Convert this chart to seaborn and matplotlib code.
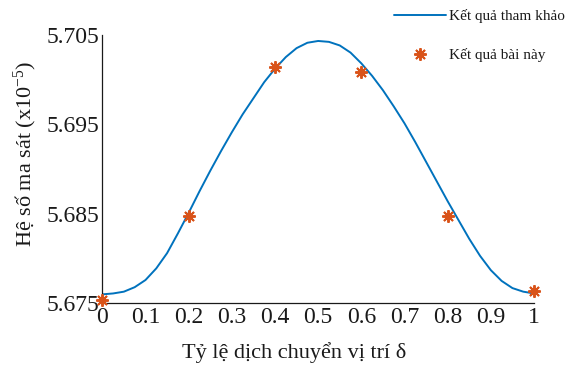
import matplotlib
matplotlib.use("Agg")
import matplotlib.pyplot as plt
import seaborn as sns

# Reference curve (friction coefficient, x1e-5) vs. shift ratio
ref_x = [0.000, 0.025, 0.050, 0.075, 0.100, 0.125, 0.150, 0.175, 0.200,
         0.225, 0.250, 0.275, 0.300, 0.325, 0.350, 0.375, 0.400, 0.425,
         0.450, 0.475, 0.500, 0.525, 0.550, 0.575, 0.600, 0.625, 0.650,
         0.675, 0.700, 0.725, 0.750, 0.775, 0.800, 0.825, 0.850, 0.875,
         0.900, 0.925, 0.950, 0.975, 1.000]
ref_y = [5.6760, 5.6761, 5.6763, 5.6768, 5.6776, 5.6789, 5.6806, 5.6828,
         5.6851, 5.6875, 5.6898, 5.6920, 5.6941, 5.6961, 5.6979, 5.6997,
         5.7012, 5.7025, 5.7035, 5.7041, 5.7043, 5.7042, 5.7038, 5.7030,
         5.7018, 5.7004, 5.6988, 5.6970, 5.6951, 5.6930, 5.6908, 5.6886,
         5.6864, 5.6843, 5.6822, 5.6803, 5.6787, 5.6775, 5.6767, 5.6763,
         5.6761]

# Results of this work
our_x = [0.0, 0.2, 0.4, 0.6, 0.8, 1.0]
our_y = [5.6754, 5.6847, 5.7014, 5.7008, 5.6848, 5.6764]

xticks = [0, 0.1, 0.2, 0.3, 0.4, 0.5, 0.6, 0.7, 0.8, 0.9, 1]
xtick_labels = ["0", "0.1", "0.2", "0.3", "0.4", "0.5", "0.6", "0.7", "0.8", "0.9", "1"]
yticks = [5.675, 5.685, 5.695, 5.705]
ytick_labels = ["5.675", "5.685", "5.695", "5.705"]

sns.set_theme(style="white")
plt.rcParams["font.family"] = ["Liberation Serif", "DejaVu Serif"]
plt.rcParams["mathtext.fontset"] = "custom"
plt.rcParams["mathtext.rm"] = "Liberation Serif"
plt.rcParams["mathtext.it"] = "Liberation Serif:italic"

text_color = "#1a1a1a"
line_color = "#0072BD"
mark_color = "#D95319"

fig = plt.figure(figsize=(5.79, 3.68), dpi=100)
ax = fig.add_axes([0.1767, 0.1758, 0.9223 - 0.1767, 0.9057 - 0.1758])

sns.lineplot(x=ref_x, y=ref_y, ax=ax, color=line_color, linewidth=1.4,
             label="Kết quả tham khảo")
sns.lineplot(x=our_x, y=our_y, ax=ax, linestyle="", marker=(8, 2, 0),
             markersize=9, color=mark_color, markeredgecolor=mark_color,
             markeredgewidth=1.4, label="Kết quả bài này", clip_on=False,
             zorder=5)

ax.set_xlim(0, 1)
ax.set_ylim(5.675, 5.705)
ax.set_xticks(xticks)
ax.set_xticklabels(xtick_labels)
ax.set_yticks(yticks)
ax.set_yticklabels(ytick_labels)
ax.tick_params(axis="both", direction="in", length=3.5, width=0.9,
               labelsize=17, pad=2.5, colors=text_color)

for side in ("top", "right"):
    ax.spines[side].set_visible(False)
for side in ("left", "bottom"):
    ax.spines[side].set_color(text_color)
    ax.spines[side].set_linewidth(0.9)

ax.set_xlabel("Tỷ lệ dịch chuyển vị trí δ", fontsize=16, color=text_color)
ax.xaxis.set_label_coords(0.445, -0.145)
ax.set_ylabel(r"Hệ số ma sát (x10$^{\mathrm{-5}}$)", fontsize=16,
              color=text_color, va="center")
ax.yaxis.set_label_coords(-0.178, 0.556)

leg = ax.legend(loc="upper left", bbox_to_anchor=(394 / 579, 1 - 9 / 368),
                bbox_transform=fig.transFigure, frameon=False, fontsize=11,
                handlelength=3.4, handletextpad=0.2, labelspacing=1.63,
                borderpad=0, borderaxespad=0, numpoints=1)
for t in leg.get_texts():
    t.set_color(text_color)

fig.savefig("out.png", dpi=100)
